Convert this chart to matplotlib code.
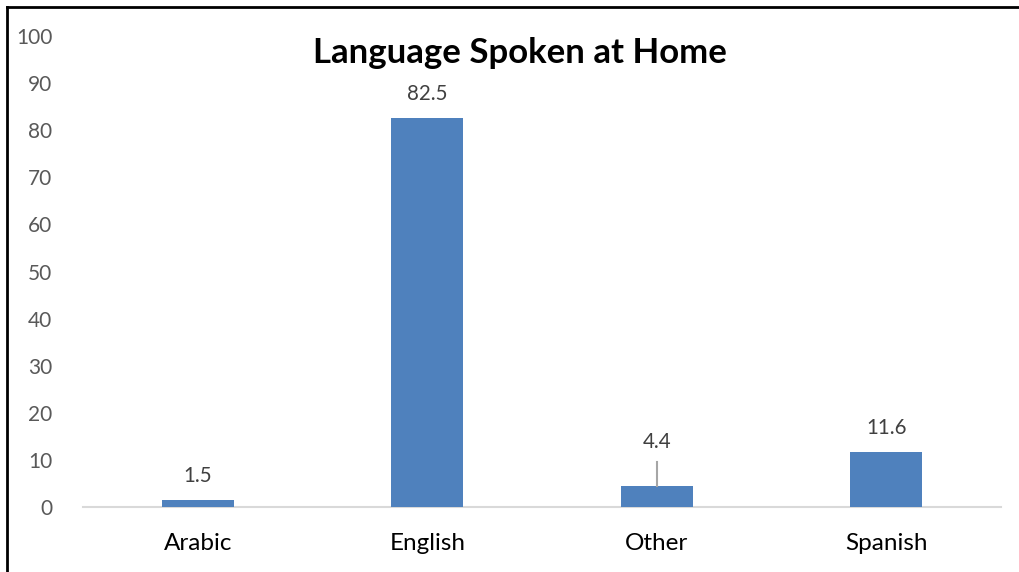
import matplotlib
matplotlib.use("Agg")
import matplotlib.pyplot as plt
from matplotlib.lines import Line2D

categories = ["Arabic", "English", "Other", "Spanish"]
values = [1.5, 82.5, 4.4, 11.6]
yticks = [0, 10, 20, 30, 40, 50, 60, 70, 80, 90, 100]

plt.rcParams['font.family'] = ['Lato', 'DejaVu Sans']

fig = plt.figure(figsize=(10.19, 5.72), dpi=100)
ax = fig.add_axes([83/1019, 1 - 507/572, (1001 - 83)/1019, (507 - 36)/572])

x = list(range(len(categories)))
ax.bar(x, values, width=0.315, color="#4F81BD", zorder=3)
ax.set_xlim(-0.5, len(categories) - 0.5)
ax.set_ylim(0, 100)
ax.set_yticks(yticks)
ax.set_yticklabels([str(t) for t in yticks], color="#595959", fontsize=15)
ax.set_xticks(x)
ax.set_xticklabels(categories, color="#000000", fontsize=17.5)
ax.tick_params(axis="both", length=0)
ax.tick_params(axis="y", pad=22)
ax.tick_params(axis="x", pad=19)
for s in ["top", "right", "left"]:
    ax.spines[s].set_visible(False)
ax.spines["bottom"].set_color("#D9D9D9")
ax.spines["bottom"].set_linewidth(1.5)

for i, v in enumerate(values):
    if categories[i] == "Other":
        ly = v + 9.4
        ax.plot([i, i], [v, v + 5.1], color="#A6A6A6", lw=1.5, zorder=4)
        ax.text(i, ly, f"{v}", ha="center", va="center", color="#404040", fontsize=14.8)
    else:
        ax.text(i, v + 5.1, f"{v}", ha="center", va="center", color="#404040", fontsize=14.8)

fig.text(520/1019, 1 - 53/572, "Language Spoken at Home", ha="center", va="center",
         fontsize=25, fontweight="bold", color="#000000")

# outer frame (left and top visible)
fig.add_artist(Line2D([7/1019, 7/1019], [0, 1 - 7/572], transform=fig.transFigure, color="black", lw=2))
fig.add_artist(Line2D([7/1019, 1], [1 - 7/572, 1 - 7/572], transform=fig.transFigure, color="black", lw=2))

fig.savefig("out.png", dpi=100)
